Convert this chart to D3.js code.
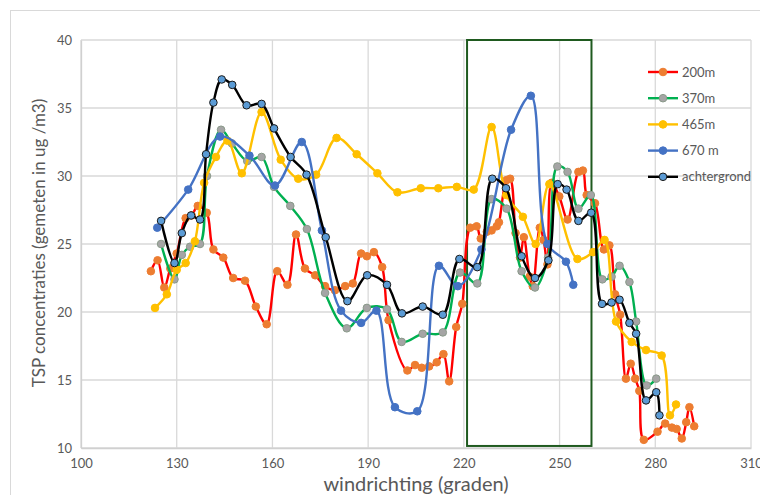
<!DOCTYPE html>
<html><head><meta charset="utf-8">
<script src="https://cdn.jsdelivr.net/npm/d3@7"></script>
<style>body{margin:0;background:#fff}svg{display:block}text{font-family:Lato,"Open Sans",sans-serif}</style>
</head><body><svg id="c" width="760" height="495"></svg>
<script>
const seriesNames = ["200m", "370m", "465m", "670 m", "achtergrond"];
const xTicks = [100, 130, 160, 190, 220, 250, 280, 310];
const yTicks = [10, 15, 20, 25, 30, 35, 40];
const boxRange = [221, 260, 10.15, 40];

const dir200 = [121.9,124.0,126.1,128.0,130.0,132.8,134.7,136.6,139.4,141.5,144.6,147.7,151.4,154.8,158.2,161.5,164.7,167.4,170.2,173.4,176.5,179.6,182.8,185.2,187.8,189.6,191.8,194.4,196.4,202.3,204.7,206.8,209.1,211.5,213.6,215.4,217.6,219.5,222.0,224.0,225.3,227.2,228.7,230.3,231.0,233.4,234.5,236.2,237.6,238.8,240.6,241.6,243.8,245.0,246.2,247.5,249.9,252.5,255.9,257.3,258.5,261.1,263.9,265.6,267.4,269.0,270.8,272.3,273.7,275.0,276.4,280.7,283.1,285.2,286.7,288.3,289.7,290.7,292.2];
const val200 = [23.0,23.8,21.8,23.2,24.3,26.9,27.1,27.8,27.3,24.6,24.0,22.5,22.3,20.4,19.1,23.0,22.0,25.7,23.2,22.7,21.9,21.6,21.9,22.1,24.3,24.1,24.4,23.3,19.4,15.7,16.1,15.9,16.0,16.3,16.9,14.9,18.9,20.6,26.2,26.3,25.4,25.9,26.0,26.3,26.6,29.7,29.8,25.8,24.0,25.5,22.6,21.9,26.2,25.3,23.5,29.5,28.5,26.8,30.3,30.4,28.6,28.0,24.6,24.9,21.3,19.8,15.1,16.2,15.1,14.2,10.6,11.2,11.8,11.5,11.4,10.7,11.9,13.0,11.6];

const dir370 = [125.1,129.3,131.6,134.2,137.3,139.5,143.9,147.3,152.1,156.6,160.5,165.6,170.8,176.5,183.3,189.6,195.9,200.5,207.1,213.4,218.8,224.2,228.7,233.4,238.1,242.3,246.4,249.3,252.5,255.9,259.8,263.4,266.3,268.8,271.9,274.0,277.3,280.3];
const val370 = [25.0,22.4,24.2,24.8,25.0,30.0,33.4,32.4,31.1,31.4,29.2,27.8,26.1,21.4,18.8,20.3,20.2,17.8,18.4,18.5,22.9,22.1,28.3,27.6,23.0,21.8,24.0,30.7,30.3,27.6,28.6,22.4,22.6,23.4,22.2,19.3,14.6,15.1];

const dir465 = [123.2,126.9,130.0,132.8,135.7,138.6,142.3,145.9,150.4,156.6,162.6,168.1,173.7,180.1,186.4,192.9,199.2,206.5,212.0,217.8,223.1,228.7,233.3,238.5,242.5,246.8,255.6,260.5,264.1,267.7,272.6,277.1,282.0,284.6,286.5];
const val465 = [20.3,21.3,23.1,23.6,25.2,29.5,31.4,32.6,30.2,34.7,31.2,29.8,30.1,32.8,31.6,30.2,28.8,29.1,29.1,29.2,29.0,33.6,28.6,27.0,25.0,29.4,23.9,24.4,25.3,19.3,17.8,17.2,16.8,12.4,13.2];

const dir670 = [123.9,133.6,143.6,152.8,160.8,169.2,175.5,181.5,187.8,192.6,198.4,205.4,212.2,218.1,225.5,234.8,241.0,246.2,252.0,254.3];
const val670 = [26.2,29.0,32.9,31.5,29.3,32.5,26.0,20.1,19.2,20.1,13.0,12.7,23.4,21.9,24.6,33.4,35.9,25.0,23.7,22.0];

const dirBg = [125.1,129.3,131.6,134.5,137.3,139.2,141.5,144.1,147.4,151.9,156.6,160.5,165.7,170.7,176.7,183.5,189.7,195.9,200.6,207.1,213.4,218.6,224.2,228.9,233.2,238.1,242.3,246.5,249.4,252.2,255.9,259.9,263.3,266.3,268.8,271.9,274.0,277.1,280.3,281.3];
const valBg = [26.7,23.6,25.8,27.1,26.8,31.6,35.4,37.1,36.7,35.2,35.3,33.5,31.4,30.1,25.5,20.8,22.7,22.0,19.9,20.4,19.8,23.9,23.3,29.8,29.1,24.1,22.5,23.8,29.4,29.0,26.7,27.3,20.6,20.7,20.9,19.2,18.4,13.5,14.1,12.4];

const styles = [
  {line:"#ff0000", fill:"#ed7d31", stroke:"#ed7d31"},
  {line:"#00b050", fill:"#a5a5a5", stroke:"#8a9a8a"},
  {line:"#ffc000", fill:"#ffc000", stroke:"#ffc000"},
  {line:"#4472c4", fill:"#4472c4", stroke:"#4472c4"},
  {line:"#000000", fill:"#5b9bd5", stroke:"#1a1a1a"}
];
const data = [[dir200,val200],[dir370,val370],[dir465,val465],[dir670,val670],[dirBg,valBg]];

const svg = d3.select("#c");
svg.append("rect").attr("x",10.5).attr("y",10.5).attr("width",800).attr("height",600)
  .attr("fill","#fff").attr("stroke","#d9d9d9");

const x = d3.scaleLinear().domain([100,310]).range([81,751]);
const y = d3.scaleLinear().domain([10,40]).range([448,40]);

// grid
svg.append("g").selectAll("line").data(yTicks).join("line")
  .attr("x1",x(100)).attr("x2",x(310)).attr("y1",d=>y(d)).attr("y2",d=>y(d))
  .attr("stroke","#d9d9d9").attr("stroke-width",1.3);
svg.append("g").selectAll("line").data(xTicks).join("line")
  .attr("x1",d=>x(d)).attr("x2",d=>x(d)).attr("y1",y(10)).attr("y2",y(40))
  .attr("stroke","#d9d9d9").attr("stroke-width",1.3);

// axes
const xAxis = d3.axisBottom(x).tickValues(xTicks).tickSize(0).tickPadding(11);
const gx = svg.append("g").attr("transform",`translate(0,${y(10)})`).call(xAxis);
gx.select(".domain").attr("stroke","#d0d0d0").attr("stroke-width",1.3);
gx.selectAll("text").attr("fill","#595959").style("font-size","13px");
const yAxis = d3.axisLeft(y).tickValues(yTicks).tickSize(0).tickPadding(9);
const gy = svg.append("g").attr("transform",`translate(${x(100)},0)`).call(yAxis);
gy.select(".domain").attr("stroke","#d0d0d0").attr("stroke-width",1.3);
gy.selectAll("text").attr("fill","#595959").style("font-size","13px");

// box
svg.append("rect").attr("x",x(boxRange[0])).attr("y",y(boxRange[3]))
  .attr("width",x(boxRange[1])-x(boxRange[0])).attr("height",y(boxRange[2])-y(boxRange[3]))
  .attr("fill","none").attr("stroke","#1f5a1f").attr("stroke-width",2);

// series
const line = d3.line().x(d=>x(d[0])).y(d=>y(d[1])).curve(d3.curveCatmullRom.alpha(0.5));
data.forEach((s,i)=>{
  const pts = s[0].map((d,j)=>[d,s[1][j]]);
  const g = svg.append("g");
  g.append("path").datum(pts).attr("d",line).attr("fill","none")
    .attr("stroke",styles[i].line).attr("stroke-width",2.4);
  g.selectAll("circle").data(pts).join("circle")
    .attr("cx",d=>x(d[0])).attr("cy",d=>y(d[1])).attr("r",3.8)
    .attr("fill",styles[i].fill).attr("stroke",styles[i].stroke).attr("stroke-width",1);
});

// legend
const leg = svg.append("g");
seriesNames.forEach((n,i)=>{
  const ly = 72 + i*26.2;
  leg.append("line").attr("x1",648).attr("x2",678).attr("y1",ly).attr("y2",ly)
    .attr("stroke",styles[i].line).attr("stroke-width",2.4);
  leg.append("circle").attr("cx",663).attr("cy",ly).attr("r",3.8)
    .attr("fill",styles[i].fill).attr("stroke",styles[i].stroke).attr("stroke-width",1);
  leg.append("text").attr("x",682).attr("y",ly).attr("dy","0.35em")
    .attr("fill","#595959").style("font-size","13px").text(n);
});

// titles
svg.append("text").attr("x",416).attr("y",491).attr("text-anchor","middle")
  .attr("fill","#595959").style("font-size","20px").text("windrichting (graden)");
svg.append("text").attr("transform","translate(45,243) rotate(-90)").attr("text-anchor","middle")
  .attr("fill","#595959").style("font-size","17px").text("TSP concentraties (gemeten in ug /m3)");
</script></body></html>
